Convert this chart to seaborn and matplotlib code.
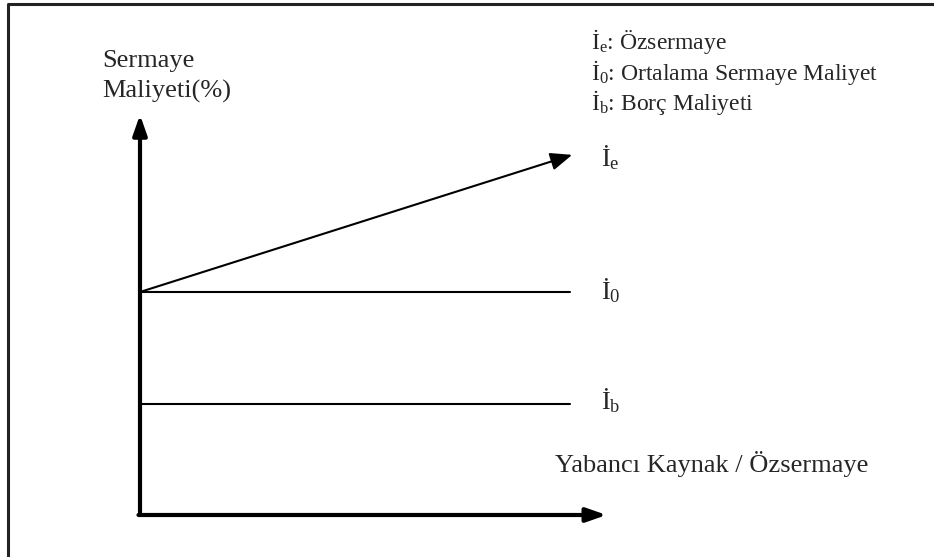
import matplotlib
matplotlib.use('Agg')
import matplotlib.pyplot as plt
import seaborn as sns
import pandas as pd

# Yabancı kaynak / özsermaye oranı ve maliyetler (%)
oran = [0, 10]
ozsermaye = [10, 16]
ortalama = [10, 10]
borc = [5, 5]

seri_adlari = ['İ$_\\mathrm{e}$', 'İ$_\\mathrm{0}$', 'İ$_\\mathrm{b}$']
aciklamalar = ['Özsermaye', 'Ortalama Sermaye Maliyet', 'Borç Maliyeti']
eksen_y = ['Sermaye', 'Maliyeti(%)']
eksen_x = 'Yabancı Kaynak / Özsermaye'

sns.set_theme(style='white')
plt.rcParams['font.family'] = ['Liberation Serif', 'DejaVu Serif']
plt.rcParams['mathtext.fontset'] = 'custom'
plt.rcParams['mathtext.rm'] = 'Liberation Serif'
plt.rcParams['mathtext.it'] = 'Liberation Serif:italic'

df = pd.concat([
    pd.DataFrame({'x': oran, 'y': ortalama, 'seri': '0'}),
    pd.DataFrame({'x': oran, 'y': borc, 'seri': 'b'}),
])

PX, PY = 43, 22.3   # px per unit, origin at pixel (140, 515)


def px(x):
    return (x - 140) / PX


def py(y):
    return (515 - y) / PY


fig = plt.figure(figsize=(9.34, 5.57), dpi=100)
ax = fig.add_axes([0, 0, 1, 1])
ax.set_xlim(px(0), px(934))
ax.set_ylim(py(557), py(0))
ax.axis('off')

# page border (only top and left edges visible)
ax.plot([px(8), px(8), px(940)], [py(560), py(3.5), py(3.5)],
        color='#222222', lw=2.2, clip_on=False)

sns.lineplot(data=df, x='x', y='y', units='seri', estimator=None,
             color='black', lw=1.5, ax=ax, legend=False)

# Ie line with arrow head
ax.annotate('', xy=(oran[1] + 0.05, ozsermaye[1] + 0.15), xytext=(oran[0], ozsermaye[0]),
            arrowprops=dict(arrowstyle='-|>,head_length=1.1,head_width=0.45',
                            color='black', lw=1.5, shrinkA=0, shrinkB=0))

# axes arrows
ax.annotate('', xy=(0, 17.95), xytext=(0, 0),
            arrowprops=dict(arrowstyle='-|>,head_length=1.0,head_width=0.35',
                            color='black', lw=3, shrinkA=0, shrinkB=0))
ax.annotate('', xy=(10.85, 0), xytext=(-0.035, 0),
            arrowprops=dict(arrowstyle='-|>,head_length=1.0,head_width=0.35',
                            color='black', lw=3, shrinkA=0, shrinkB=0))

# end labels
for ad, yv, base in zip(seri_adlari, [ozsermaye[1], ortalama[1], borc[1]], [166, 299, 409]):
    ax.text(px(601), py(base), ad, fontsize=19, va='baseline', ha='left')

# legend text
for ad, ac, base in zip(seri_adlari, aciklamalar, [49, 80, 110]):
    ax.text(px(591), py(base), f'{ad}: {ac}', fontsize=17, va='baseline', ha='left')

for satir, base in zip(eksen_y, [67, 98]):
    ax.text(px(102), py(base), satir, fontsize=19, va='baseline', ha='left')
ax.text(px(555), py(472), eksen_x, fontsize=19, va='baseline', ha='left')

fig.savefig('out.png', dpi=100, facecolor='white')
